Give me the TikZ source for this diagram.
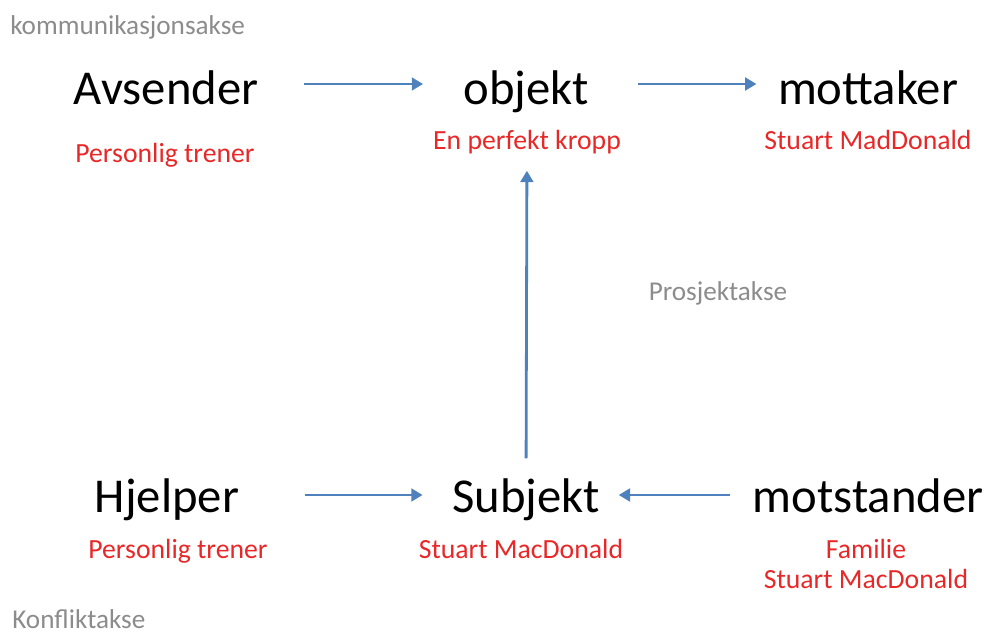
\documentclass[tikz,border=0pt]{standalone}
\usepackage{fontspec}
\setmainfont{Carlito}
\usepackage{xcolor}
\usetikzlibrary{arrows.meta}

\definecolor{axisblue}{RGB}{79,129,189}
\definecolor{rolered}{RGB}{232,40,40}
\definecolor{axisgray}{RGB}{140,140,140}

\begin{document}
\begin{tikzpicture}[
  x=0.75pt, y=-0.75pt,
  actant/.style={font=\fontsize{36.5}{40}\selectfont, inner sep=0pt, anchor=base, text height=40pt, text depth=8.5pt},
  role/.style={font=\fontsize{20.8}{22.5}\selectfont, text=rolered, inner sep=0pt, anchor=base, align=center},
  axis/.style={font=\fontsize{20.4}{24}\selectfont, text=axisgray, inner sep=0pt},
  arrow/.style={-{Triangle[length=8.5pt, width=9.5pt]}, line width=2.1pt, draw=axisblue},
]
\useasboundingbox (0,0) rectangle (986,635);

% Actants
\node[actant] (avsender) at (166,105) {Avsender};
\node[actant] (objekt) at (526,105) {objekt};
\node[actant] (mottaker) at (868,105) {mottaker};
\node[actant] (hjelper) at (167,512) {Hjelper};
\node[actant] (subjekt) at (526,512) {Subjekt};
\node[actant] (motstander) at (868,512) {motstander};

% Roles
\node[role] (avsenderrole) at (165,162) {Personlig trener};
\node[role] (objektrole) at (527,150) {En perfekt kropp};
\node[role] (mottakerrole) at (868,150) {Stuart MadDonald};
\node[role] (hjelperrole) at (178,558) {Personlig trener};
\node[role] (subjektrole) at (521,558) {Stuart MacDonald};
\node[role] (motstanderrole) at (866,588) {Familie\\Stuart MacDonald};

% Axes
\node[axis, anchor=base west] (kommunikasjon) at (10,35) {kommunikasjonsakse};
\node[axis, anchor=base] (prosjekt) at (718,300) {Prosjektakse};
\node[axis, anchor=base west] (konflikt) at (12,628) {Konfliktakse};

% Arrows
\draw[arrow, shorten <=34pt, shorten >=30pt] (avsender) -- (objekt);
\draw[arrow, shorten <=37pt, shorten >=16pt] (objekt) -- (mottaker);
\draw[arrow, shorten <=0pt, shorten >=12pt] (subjekt) -- (objektrole);
\draw[arrow, shorten <=49pt, shorten >=22pt] ([yshift=-3pt]hjelper.east) -- ([yshift=-3pt]subjekt.west);
\draw[arrow, shorten <=17pt, shorten >=14pt] ([yshift=-3pt]motstander.west) -- ([yshift=-3pt]subjekt.east);

\end{tikzpicture}
\end{document}
